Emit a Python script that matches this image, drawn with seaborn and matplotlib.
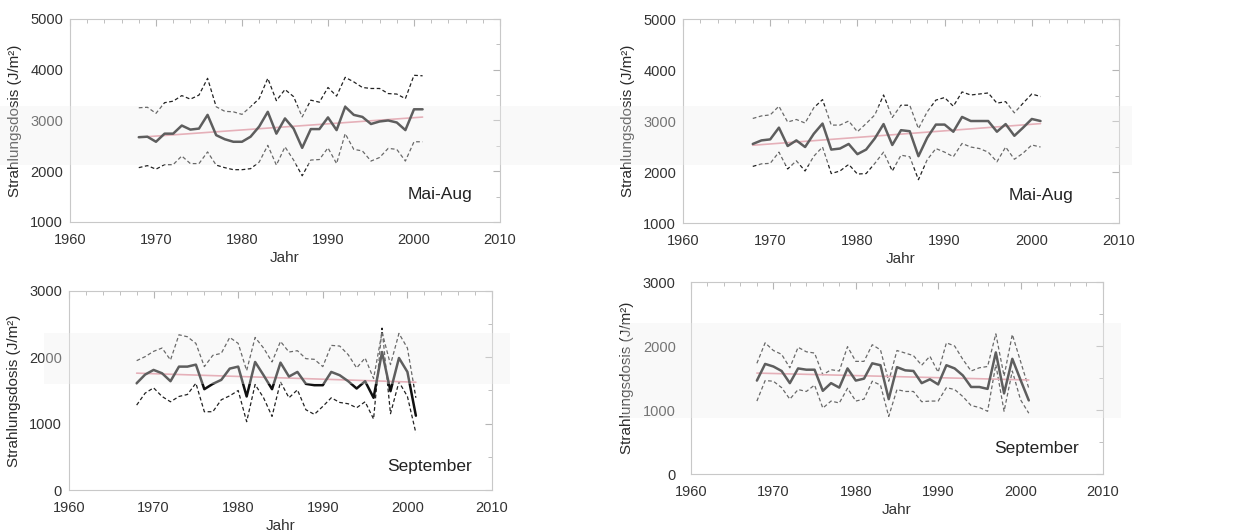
import numpy as np
import pandas as pd
import matplotlib
matplotlib.use('Agg')
import matplotlib.pyplot as plt
from matplotlib.patches import Rectangle
from matplotlib.ticker import MultipleLocator
import seaborn as sns

years = list(range(1968, 2002))

# Mai-Aug, left
mai_l_mean = [2670, 2680, 2580, 2740, 2740, 2900, 2820, 2840, 3110, 2710, 2630, 2580, 2580, 2680, 2880, 3170, 2740,
              3040, 2840, 2460, 2830, 2830, 3060, 2810, 3270, 3110, 3070, 2930, 2980, 3000, 2960, 2810, 3220, 3220]
mai_l_upper = [3250, 3260, 3140, 3350, 3380, 3490, 3420, 3500, 3830, 3270, 3180, 3170, 3120, 3270, 3430, 3830, 3390,
               3610, 3470, 3070, 3400, 3360, 3650, 3480, 3850, 3760, 3650, 3630, 3630, 3530, 3520, 3430, 3890, 3880]
mai_l_lower = [2070, 2110, 2040, 2130, 2130, 2300, 2150, 2150, 2380, 2120, 2070, 2030, 2030, 2050, 2180, 2510, 2120,
               2480, 2220, 1910, 2220, 2230, 2460, 2150, 2740, 2430, 2400, 2200, 2270, 2450, 2430, 2200, 2580, 2580]

# Mai-Aug, right
mai_r_mean = [2550, 2620, 2640, 2870, 2510, 2620, 2490, 2750, 2950, 2440, 2460, 2550, 2350, 2440, 2660, 2940, 2530,
              2820, 2800, 2310, 2670, 2930, 2930, 2790, 3080, 3000, 3000, 3000, 2790, 2940, 2710, 2870, 3040, 3000]
mai_r_upper = [3050, 3100, 3120, 3290, 2980, 3030, 2960, 3260, 3420, 2920, 2920, 3000, 2790, 2950, 3120, 3510, 3070,
               3310, 3310, 2850, 3180, 3410, 3460, 3290, 3570, 3510, 3530, 3550, 3350, 3380, 3160, 3350, 3530, 3480]
mai_r_lower = [2110, 2160, 2170, 2390, 2060, 2220, 2020, 2310, 2490, 1970, 2020, 2150, 1960, 1970, 2170, 2390, 2020,
               2330, 2300, 1850, 2240, 2460, 2390, 2300, 2560, 2490, 2460, 2390, 2200, 2490, 2250, 2370, 2530, 2490]

# September, left
sep_l_mean = [1610, 1740, 1810, 1760, 1640, 1860, 1860, 1890, 1520, 1600, 1660, 1830, 1860, 1410, 1930, 1730, 1520,
              1920, 1710, 1780, 1600, 1580, 1580, 1780, 1730, 1640, 1530, 1640, 1390, 2080, 1490, 1990, 1780, 1120]
sep_l_upper = [1950, 2010, 2090, 2140, 1960, 2340, 2310, 2210, 1860, 2030, 2060, 2300, 2210, 1800, 2300, 2140, 1930,
               2240, 2080, 2100, 1980, 1970, 1860, 2180, 2170, 2040, 1840, 1990, 1680, 2380, 1890, 2360, 2140, 1390]
sep_l_lower = [1280, 1460, 1540, 1410, 1330, 1410, 1440, 1610, 1180, 1180, 1360, 1420, 1500, 1030, 1590, 1390, 1110,
               1630, 1390, 1510, 1210, 1140, 1260, 1390, 1320, 1300, 1240, 1330, 1070, 2440, 1150, 1630, 1410, 860]

# September, right
sep_r_mean = [1460, 1720, 1680, 1610, 1420, 1650, 1630, 1630, 1300, 1420, 1350, 1650, 1460, 1490, 1730, 1700, 1170,
              1670, 1620, 1610, 1420, 1480, 1400, 1700, 1650, 1540, 1360, 1360, 1330, 1900, 1260, 1800, 1470, 1150]
sep_r_upper = [1730, 2050, 1930, 1870, 1660, 1980, 1910, 1890, 1550, 1630, 1610, 1990, 1760, 1760, 2020, 1940, 1450,
               1930, 1890, 1850, 1700, 1840, 1590, 2050, 2000, 1790, 1610, 1660, 1680, 2190, 1530, 2180, 1760, 1340]
sep_r_lower = [1140, 1460, 1450, 1350, 1170, 1320, 1290, 1390, 1030, 1140, 1110, 1340, 1140, 1170, 1450, 1390, 900,
               1320, 1290, 1290, 1130, 1140, 1140, 1350, 1320, 1210, 1070, 1040, 980, 1710, 980, 1610, 1160, 950]

panels = [
    ([0.0562, 0.582, 0.3454, 0.3823], mai_l_mean, mai_l_upper, mai_l_lower, (1000, 5000), 'Mai-Aug', (0.86, 0.133), 5),
    ([0.5486, 0.580, 0.3502, 0.3842], mai_r_mean, mai_r_upper, mai_r_lower, (1000, 5000), 'Mai-Aug', (0.82, 0.137), 5),
    ([0.0554, 0.0772, 0.3398, 0.3748], sep_l_mean, sep_l_upper, sep_l_lower, (0, 3000), 'September', (0.853, 0.116), 5),
    ([0.555, 0.1073, 0.3309, 0.3616], sep_r_mean, sep_r_upper, sep_r_lower, (0, 3000), 'September', (0.84, 0.135), 11),
]

sns.set_style('white')
plt.rcParams['font.family'] = ['Liberation Sans', 'DejaVu Sans']

fig = plt.figure(figsize=(12.45, 5.31), dpi=100)

for rect, mean, upper, lower, ylim, label, pos, ypad in panels:
    ax = fig.add_axes(rect)
    sns.lineplot(x=years, y=upper, ax=ax, color='#222222', lw=0.9, linestyle=(0, (3, 2)))
    sns.lineplot(x=years, y=lower, ax=ax, color='#222222', lw=0.9, linestyle=(0, (3, 2)))
    sns.regplot(x=years, y=mean, ax=ax, scatter=False, ci=None,
                line_kws={'color': '#e08f9c', 'lw': 1.2})
    sns.lineplot(x=years, y=mean, ax=ax, color='#111111', lw=1.8)

    ax.set_xlim(1960, 2010)
    ax.set_ylim(*ylim)
    ax.xaxis.set_major_locator(MultipleLocator(10))
    ax.xaxis.set_minor_locator(MultipleLocator(2))
    ax.yaxis.set_major_locator(MultipleLocator(1000))
    ax.yaxis.set_minor_locator(MultipleLocator(500))
    ax.tick_params(which='both', direction='in', top=True, right=True, color='#b5b5b5',
                   labelsize=10.5, labelcolor='#333333')
    ax.tick_params(which='major', length=5)
    ax.tick_params(which='minor', length=3)
    ax.tick_params(axis='x', pad=8)
    ax.tick_params(axis='y', pad=ypad)
    for sp in ax.spines.values():
        sp.set_color('#c8c8c8')
        sp.set_linewidth(0.8)
    ax.set_xlabel('Jahr', fontsize=11, color='#333333', labelpad=3)
    ax.set_ylabel('Strahlungsdosis (J/m²)', fontsize=11, color='#2a2a2a', labelpad=6)
    ax.text(pos[0], pos[1], label, transform=ax.transAxes, ha='center', va='center',
            fontsize=12.5, color='#222222')

# faded horizontal bands from the scanned source
for x0, y0, w, h in [(0.0, 0.689, 0.909, 0.111), (0.035, 0.277, 0.375, 0.096), (0.5, 0.213, 0.40, 0.179)]:
    fig.patches.append(Rectangle((x0, y0), w, h, transform=fig.transFigure,
                                 facecolor='#f0f0f0', alpha=0.35, edgecolor='none', zorder=10))

fig.savefig('out.png', dpi=100)
